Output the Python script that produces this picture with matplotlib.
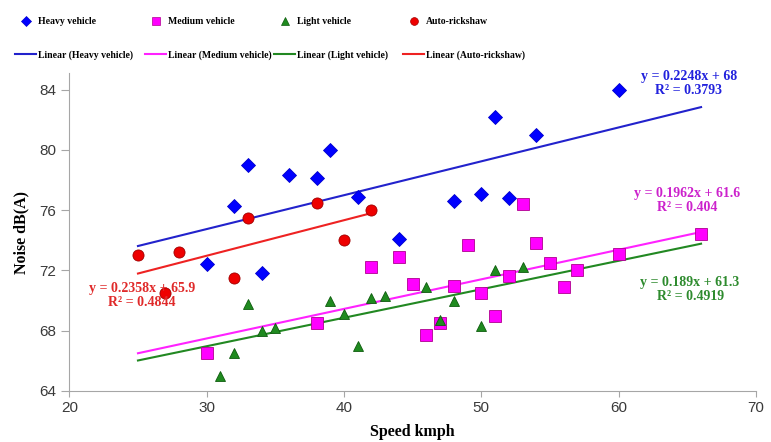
import matplotlib
matplotlib.use("Agg")
import numpy as np
import matplotlib.pyplot as plt
from matplotlib.lines import Line2D

# scatter data
heavy_x = [30, 32, 33, 34, 36, 38, 39, 41, 44, 48, 50, 51, 52, 54, 60]
heavy_y = [72.4, 76.3, 79.0, 71.8, 78.3, 78.1, 80.0, 76.9, 74.1, 76.6, 77.1, 82.2, 76.8, 81.0, 84.0]
medium_x = [30, 38, 42, 44, 45, 46, 47, 48, 49, 50, 51, 52, 53, 54, 55, 56, 57, 60, 66]
medium_y = [66.5, 68.5, 72.2, 72.9, 71.1, 67.7, 68.5, 71.0, 73.7, 70.5, 69.0, 71.6, 76.4, 73.8, 72.5, 70.9, 72.0, 73.1, 74.4]
light_x = [31, 32, 33, 34, 35, 39, 40, 41, 42, 43, 46, 47, 48, 50, 51, 53]
light_y = [65.0, 66.5, 69.8, 68.0, 68.2, 70.0, 69.1, 67.0, 70.2, 70.3, 70.9, 68.7, 70.0, 68.3, 72.0, 72.2]
auto_x = [25, 27, 28, 32, 33, 38, 40, 42]
auto_y = [73.0, 70.5, 73.2, 71.5, 75.5, 76.5, 74.0, 76.0]

names = ["Heavy vehicle", "Medium vehicle", "Light vehicle", "Auto-rickshaw"]

# linear trendlines as printed on the chart
slopes = [0.2248, 0.1962, 0.189, 0.2358]
intercepts = [68, 61.6, 61.3, 65.9]
r2 = ["0.3793", "0.404", "0.4919", "0.4844"]
fit_start = [25, 25, 25, 25]
fit_end = [66, 66, 66, 42]

x_ticks = [20, 30, 40, 50, 60, 70]
y_ticks = [64, 68, 72, 76, 80, 84]

xs = [heavy_x, medium_x, light_x, auto_x]
ys = [heavy_y, medium_y, light_y, auto_y]
markers = ["D", "s", "^", "o"]
msizes = [7, 8, 7.5, 8]
face = ["#0000ff", "#ff00ff", "#1f8a1f", "#ee0000"]
edge = ["#0000cc", "#b0008f", "#0d5c0d", "#a00000"]
line_col = ["#2222cc", "#ff22ff", "#228822", "#ee2222"]
eq_col = ["#2222dd", "#cc22cc", "#2e8b2e", "#e02a2a"]
# label centres (data coords)
eq_pos = [(65.1, 84.4), (65.0, 76.65), (65.2, 70.75), (25.3, 70.35)]

serif = "Liberation Serif"

fig = plt.figure(figsize=(7.71, 4.42), dpi=100)
ax = fig.add_axes([69.3 / 771, 1 - 391 / 442, (756 - 69.3) / 771, (391 - 73) / 442])

for i in range(4):
    ax.plot(xs[i], ys[i], linestyle="none", marker=markers[i], markersize=msizes[i],
            markerfacecolor=face[i], markeredgecolor=edge[i], markeredgewidth=0.6, zorder=3)
    tx = np.array([fit_start[i], fit_end[i]])
    ax.plot(tx, slopes[i] * tx + intercepts[i], color=line_col[i], lw=1.5, zorder=2)
    eq = "y = %gx + %g\nR² = %s" % (slopes[i], intercepts[i], r2[i])
    ax.text(eq_pos[i][0], eq_pos[i][1], eq, color=eq_col[i], ha="center", va="center",
            fontsize=10, fontweight="bold", family=serif, linespacing=1.1, zorder=4)

ax.set_xlim(20, 70)
ax.set_ylim(64, 85.1)
ax.set_xticks(x_ticks)
ax.set_yticks(y_ticks)
for s in ["top", "right"]:
    ax.spines[s].set_visible(False)
for s in ["left", "bottom"]:
    ax.spines[s].set_color("#a6a6a6")
ax.tick_params(axis="y", direction="out", length=6, color="#a6a6a6", labelcolor="#3a3a3a",
               labelsize=11)
ax.tick_params(axis="x", direction="out", length=4, color="#a6a6a6", labelcolor="#3a3a3a",
               labelsize=11)
for lab in ax.get_xticklabels() + ax.get_yticklabels():
    lab.set_family("Liberation Sans")

ax.set_xlabel("Speed kmph", family=serif, fontweight="bold", fontsize=11.5, labelpad=6)
ax.set_ylabel("Noise dB(A)", family=serif, fontweight="bold", fontsize=11.5, labelpad=7)

# legend: one small legend per column, marker row on top, trendline row below
col_x = [15, 145, 274, 403]
for i in range(4):
    h1 = Line2D([], [], linestyle="none", marker=markers[i], markersize=msizes[i] * 0.7,
                markerfacecolor=face[i], markeredgecolor=edge[i], markeredgewidth=0.5)
    h2 = Line2D([], [], color=line_col[i], lw=1.5)
    fig.legend([h1, h2], [names[i], "Linear (" + names[i] + ")"], loc="upper left",
               bbox_to_anchor=(col_x[i] / 771, 1 - 17 / 442), frameon=False,
               prop={"family": serif, "weight": "bold", "size": 7},
               handlelength=2.2, handletextpad=0.2, labelspacing=2.5,
               borderpad=0, borderaxespad=0, numpoints=1)

fig.savefig("out.png", dpi=100)
